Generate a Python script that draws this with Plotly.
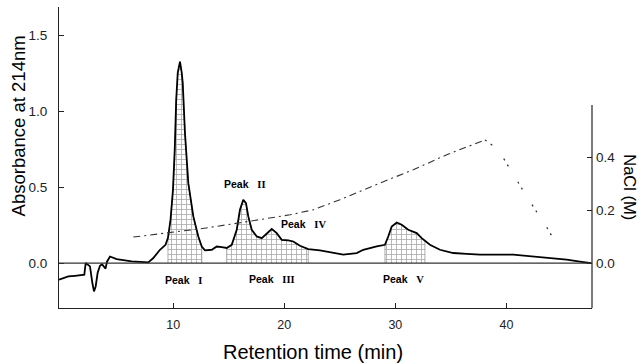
import plotly.graph_objects as go

# ---- data ----
time_min = [-0.28, 0.56, 1.16, 2.0, 2.12, 2.51, 2.72, 2.87, 3.02, 3.2, 3.41, 3.59, 3.91, 4.04, 4.31,
            4.91, 6.26, 7.76, 8.21, 8.81, 9.31, 9.53, 9.76, 9.98, 10.14, 10.27, 10.41, 10.61, 10.77,
            10.86, 11.06, 11.36, 11.81, 12.26, 12.57, 12.86, 13.47, 13.92, 14.37, 14.82, 15.27, 15.72,
            16.01, 16.31, 16.55, 16.76, 17.07, 17.52, 17.97, 18.42, 18.87, 19.32, 19.77, 20.36, 20.81,
            21.41, 22.16, 23.21, 24.11, 25.31, 26.52, 27.11, 28.32, 29.06, 29.36, 29.67, 30.12, 30.57,
            31.16, 31.92, 32.37, 32.66, 33.11, 34.01, 35.21, 36.42, 37.62, 40.61, 42.11, 43.47, 45.42,
            46.62, 47.6]
absorbance = [-0.110, -0.088, -0.084, -0.077, 0.0, -0.022, -0.130, -0.187, -0.154, -0.064, -0.018,
              -0.008, -0.037, 0.009, 0.043, 0.026, 0.011, 0.004, 0.033, 0.0875, 0.120, 0.166, 0.285,
              0.482, 0.745, 1.074, 1.252, 1.326, 1.252, 1.184, 0.855, 0.526, 0.307, 0.175, 0.109,
              0.084, 0.0875, 0.109, 0.105, 0.099, 0.120, 0.219, 0.351, 0.416, 0.395, 0.307, 0.219,
              0.175, 0.164, 0.197, 0.224, 0.197, 0.153, 0.149, 0.142, 0.114, 0.092, 0.083, 0.070,
              0.055, 0.066, 0.0875, 0.109, 0.120, 0.175, 0.241, 0.267, 0.252, 0.219, 0.197, 0.164,
              0.146, 0.120, 0.0875, 0.066, 0.061, 0.055, 0.055, 0.045, 0.035, 0.022, 0.009, 0.0]

# NaCl gradient (right axis)
grad_time = [6.41, 12.41, 15.41, 20.51, 22.61, 25.01, 28.61, 31.61, 34.62, 38.07]
grad_nacl = [0.098, 0.129, 0.148, 0.182, 0.201, 0.239, 0.302, 0.352, 0.409, 0.465]
wash_time = [38.07, 39.26, 41.06, 41.87, 43.76, 44.61]
wash_nacl = [0.465, 0.428, 0.304, 0.248, 0.126, 0.063]

# collected fractions (start, end in min)
fractions = [(9.5, 12.6), (14.8, 22.2), (29.0, 32.7)]

# peak labels
peak_words = ["Peak", "Peak", "Peak", "Peak", "Peak"]
peak_numerals = ["I", "II", "III", "IV", "V"]
peak_x = [10.97, 16.46, 18.9, 21.77, 30.77]
peak_y = [-0.11, 0.52, -0.105, 0.258, -0.105]

left_ticks = [0.0, 0.5, 1.0, 1.5]
left_ticktext = ["0.0", "0.5", "1.0", "1.5"]
right_ticks = [0.0, 0.2, 0.4]
right_ticktext = ["0.0", "0.2", "0.4"]
x_ticks = [10, 20, 30, 40]

X_RANGE = [-0.28, 47.7]
Y_RANGE = [-0.296, 1.686]
Y2_RANGE = [-0.170, 0.967]

fig = go.Figure()

# shaded fractions
for (a, b) in fractions:
    xs = [t for t in time_min if a <= t <= b]
    ys = [v for t, v in zip(time_min, absorbance) if a <= t <= b]
    px_ = [xs[0]] + xs + [xs[-1]]
    py_ = [0] + ys + [0]
    fig.add_trace(go.Scatter(
        x=px_, y=py_, mode="lines", fill="toself",
        line=dict(color="#777", width=0.6),
        fillcolor="white",
        fillpattern=dict(shape="+", size=5, solidity=0.3, fgcolor="#555", bgcolor="white"),
        hoverinfo="skip", showlegend=False))

# chromatogram
fig.add_trace(go.Scatter(x=time_min, y=absorbance, mode="lines",
                         line=dict(color="black", width=1.8), showlegend=False))

# gradient
fig.add_trace(go.Scatter(x=grad_time, y=grad_nacl, yaxis="y2", mode="lines",
                         line=dict(color="#333", width=1.1, dash="7px,4px,2px,4px"),
                         showlegend=False))
fig.add_trace(go.Scatter(x=wash_time, y=wash_nacl, yaxis="y2", mode="lines",
                         line=dict(color="#333", width=1.3, dash="2px,5px,2px,18px"),
                         showlegend=False))

# baseline at zero
fig.add_shape(type="line", xref="paper", yref="y", x0=0, x1=1, y0=0, y1=0,
              line=dict(color="#333", width=1.2))
# right axis line (partial height)
fig.add_shape(type="line", xref="paper", yref="y2", x0=1, x1=1, y0=Y2_RANGE[0], y1=0.597,
              line=dict(color="#222", width=1.2))

for word, num, xx, yy in zip(peak_words, peak_numerals, peak_x, peak_y):
    fig.add_annotation(
        x=xx, y=yy, showarrow=False,
        text="<b>" + word + "</b>   <span style='font-family:Liberation Serif'><b>" + num + "</b></span>",
        font=dict(family="Liberation Sans, Arial", size=10.5, color="black"))

# axis titles as annotations
fig.add_annotation(xref="paper", yref="paper", x=-0.076, y=0.605, text="Absorbance at 214nm",
                   textangle=-90, showarrow=False, xanchor="center", yanchor="middle",
                   font=dict(family="Liberation Sans, Arial", size=18.5, color="black"))
fig.add_annotation(xref="paper", yref="paper", x=1.072, y=0.40, text="NaCl (M)",
                   textangle=90, showarrow=False, xanchor="center", yanchor="middle",
                   font=dict(family="Liberation Sans, Arial", size=16.5, color="black"))
fig.add_annotation(xref="paper", yref="paper", x=0.4765, y=-0.146, text="Retention time (min)",
                   showarrow=False, xanchor="center", yanchor="middle",
                   font=dict(family="Liberation Sans, Arial", size=20, color="black"))

fig.update_layout(
    width=641, height=363,
    margin=dict(l=59, r=49, t=7, b=55),
    paper_bgcolor="white", plot_bgcolor="white",
    font=dict(family="Liberation Sans, Arial", color="#222"),
    xaxis=dict(range=X_RANGE, tickvals=x_ticks, ticks="inside", ticklen=5, tickcolor="#222",
               showline=True, linecolor="#222", linewidth=1.2, showgrid=False, zeroline=False,
               tickfont=dict(size=12.5, color="#222"), ticklabelstandoff=5),
    yaxis=dict(range=Y_RANGE, tickvals=left_ticks, ticktext=left_ticktext, ticks="inside",
               ticklen=5, tickcolor="#222", showline=True, linecolor="#222", linewidth=1.2,
               showgrid=False, zeroline=False, tickfont=dict(size=13.5, color="#222"),
               ticklabelstandoff=8),
    yaxis2=dict(range=Y2_RANGE, overlaying="y", side="right", tickvals=right_ticks,
                ticktext=right_ticktext, ticks="inside", ticklen=5, tickcolor="#222",
                showline=False, showgrid=False, zeroline=False,
                tickfont=dict(size=13.5, color="#222"), ticklabelstandoff=3),
    showlegend=False,
)

fig.write_html("out.html", config={"displayModeBar": False},
               post_script="document.body.style.margin='0px';document.body.style.overflow='hidden';")
